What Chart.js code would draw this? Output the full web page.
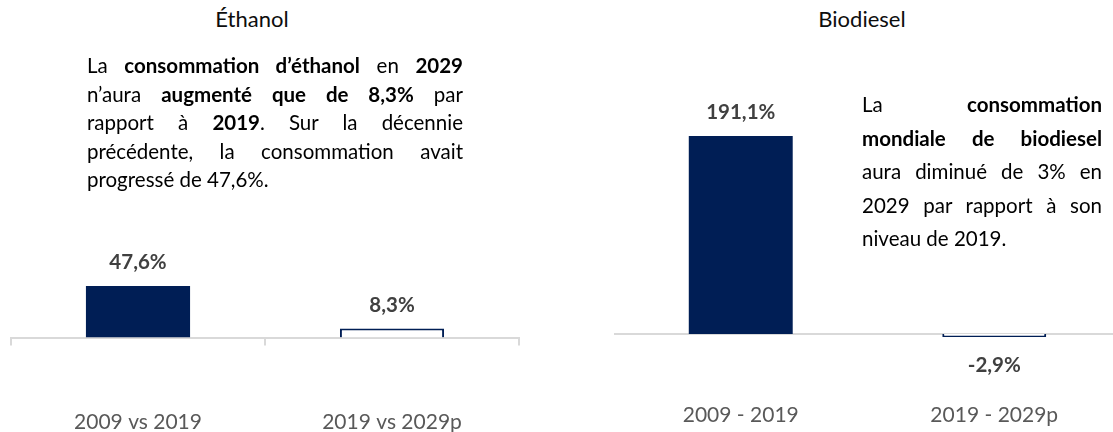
<!DOCTYPE html>
<html lang="fr">
<head>
<meta charset="utf-8">
<title>Éthanol / Biodiesel</title>
<script src="https://cdn.jsdelivr.net/npm/chart.js@4.4.1/dist/chart.umd.min.js"></script>
<style>
    html, body { margin: 0; padding: 0; background: #fff; }
    body { width: 1113px; height: 432px; position: relative; overflow: hidden; font-family: 'Lato', sans-serif; }
    canvas { position: absolute; top: 0; }
    #c-ethanol { left: 0; }
    #c-biodiesel { left: 590px; }
    .title { position: absolute; top: 6px; width: 200px; text-align: center; font-size: 22px; line-height: 25px; color: #0d0d0d; }
    .note { position: absolute; font-size: 20.5px; color: #000; }
    .note div { text-align: justify; text-align-last: justify; white-space: nowrap; }
    .note div.last { text-align-last: left; }
    .note b { font-weight: 700; }
    #note-ethanol { left: 87px; top: 51px; width: 376px; line-height: 28.5px; }
    #note-biodiesel { left: 862px; top: 88px; width: 240px; line-height: 33.5px; }
</style>
</head>
<body>
<div class="title" style="left:152px">Éthanol</div>
<div class="title" style="left:762px">Biodiesel</div>

<canvas id="c-ethanol" width="540" height="440"></canvas>
<canvas id="c-biodiesel" width="540" height="440"></canvas>

<div class="note" id="note-ethanol">
    <div>La <b>consommation d’éthanol</b> en <b>2029</b></div>
    <div>n’aura <b>augmenté que de 8,3%</b> par</div>
    <div>rapport à <b>2019</b>. Sur la décennie</div>
    <div>précédente, la consommation avait</div>
    <div class="last">progressé de 47,6%.</div>
</div>
<div class="note" id="note-biodiesel">
    <div>La <b>consommation</b></div>
    <div><b>mondiale de biodiesel</b></div>
    <div>aura diminué de 3% en</div>
    <div>2029 par rapport à son</div>
    <div class="last">niveau de 2019.</div>
</div>

<script>
// Data
const ethanolLabels = ['2009 vs 2019', '2019 vs 2029p'];
const ethanolValues = [47.6, 8.3];
const biodieselLabels = ['2009 - 2019', '2019 - 2029p'];
const biodieselValues = [191.1, -2.9];

const NAVY = '#001E55';
const GRID = '#d9d9d9';

Chart.defaults.font.family = "'Lato', sans-serif";
Chart.defaults.animation = false;

const fmt = v => v.toFixed(1).replace('.', ',') + '%';

// value labels above / below each bar
const valueLabels = {
    id: 'valueLabels',
    afterDatasetsDraw(chart) {
        const { ctx } = chart;
        const meta = chart.getDatasetMeta(0);
        const data = chart.data.datasets[0].data;
        ctx.save();
        ctx.font = "bold 20.5px 'Lato', sans-serif";
        ctx.fillStyle = '#404040';
        ctx.textAlign = 'center';
        ctx.textBaseline = 'alphabetic';
        meta.data.forEach((bar, i) => {
            const v = data[i];
            if (v >= 0) {
                ctx.fillText(fmt(v), bar.x, bar.y - 17);
            } else {
                ctx.fillText(fmt(v), bar.x, bar.y + 35);
            }
        });
        ctx.restore();
    }
};

// zero line across the plot
const zeroLine = {
    id: 'zeroLine',
    beforeDatasetsDraw(chart, args, opts) {
        if (!opts.draw) return;
        const { ctx, chartArea } = chart;
        const y = chart.scales.y.getPixelForValue(0);
        ctx.save();
        ctx.strokeStyle = GRID;
        ctx.lineWidth = 2;
        ctx.beginPath();
        ctx.moveTo(chartArea.left, y);
        ctx.lineTo(chartArea.right, y);
        ctx.stroke();
        ctx.restore();
    }
};

function makeChart(id, labels, values, cfg) {
    return new Chart(document.getElementById(id), {
        type: 'bar',
        data: {
            labels: labels,
            datasets: [{
                data: values,
                backgroundColor: [NAVY, '#ffffff'],
                borderColor: NAVY,
                borderWidth: [0, 2],
                barPercentage: 0.82,
                categoryPercentage: 0.5
            }]
        },
        options: {
            responsive: false,
            layout: { padding: cfg.padding },
            plugins: {
                legend: { display: false },
                tooltip: { enabled: false },
                zeroLine: { draw: cfg.zeroLine }
            },
            scales: {
                y: { display: false, min: cfg.min, max: cfg.max },
                x: {
                    // fixed axis height so the plot bottom lands where it should
                    afterFit: s => { s.height = cfg.axisHeight; },
                    border: { display: cfg.axis, color: GRID, width: 2 },
                    grid: { display: cfg.axis, drawOnChartArea: false, color: GRID, lineWidth: 2, tickLength: 8, drawTicks: cfg.axis },
                    ticks: {
                        color: '#595959',
                        font: { size: 21 },
                        padding: cfg.tickPad,
                        maxRotation: 0,
                        autoSkip: false
                    }
                }
            }
        },
        plugins: [zeroLine, valueLabels]
    });
}

makeChart('c-ethanol', ethanolLabels, ethanolValues, {
    min: 0, max: 100,
    padding: { top: 229.5, left: 11, right: 21, bottom: 0 },
    axisHeight: 102.5,
    axis: true, zeroLine: false, tickPad: 64
});

makeChart('c-biodiesel', biodieselLabels, biodieselValues, {
    min: -30, max: 200,
    padding: { top: 126.8, left: 24, right: 9, bottom: 0 },
    axisHeight: 74.9,
    axis: false, zeroLine: true, tickPad: 38
});
</script>
</body>
</html>
